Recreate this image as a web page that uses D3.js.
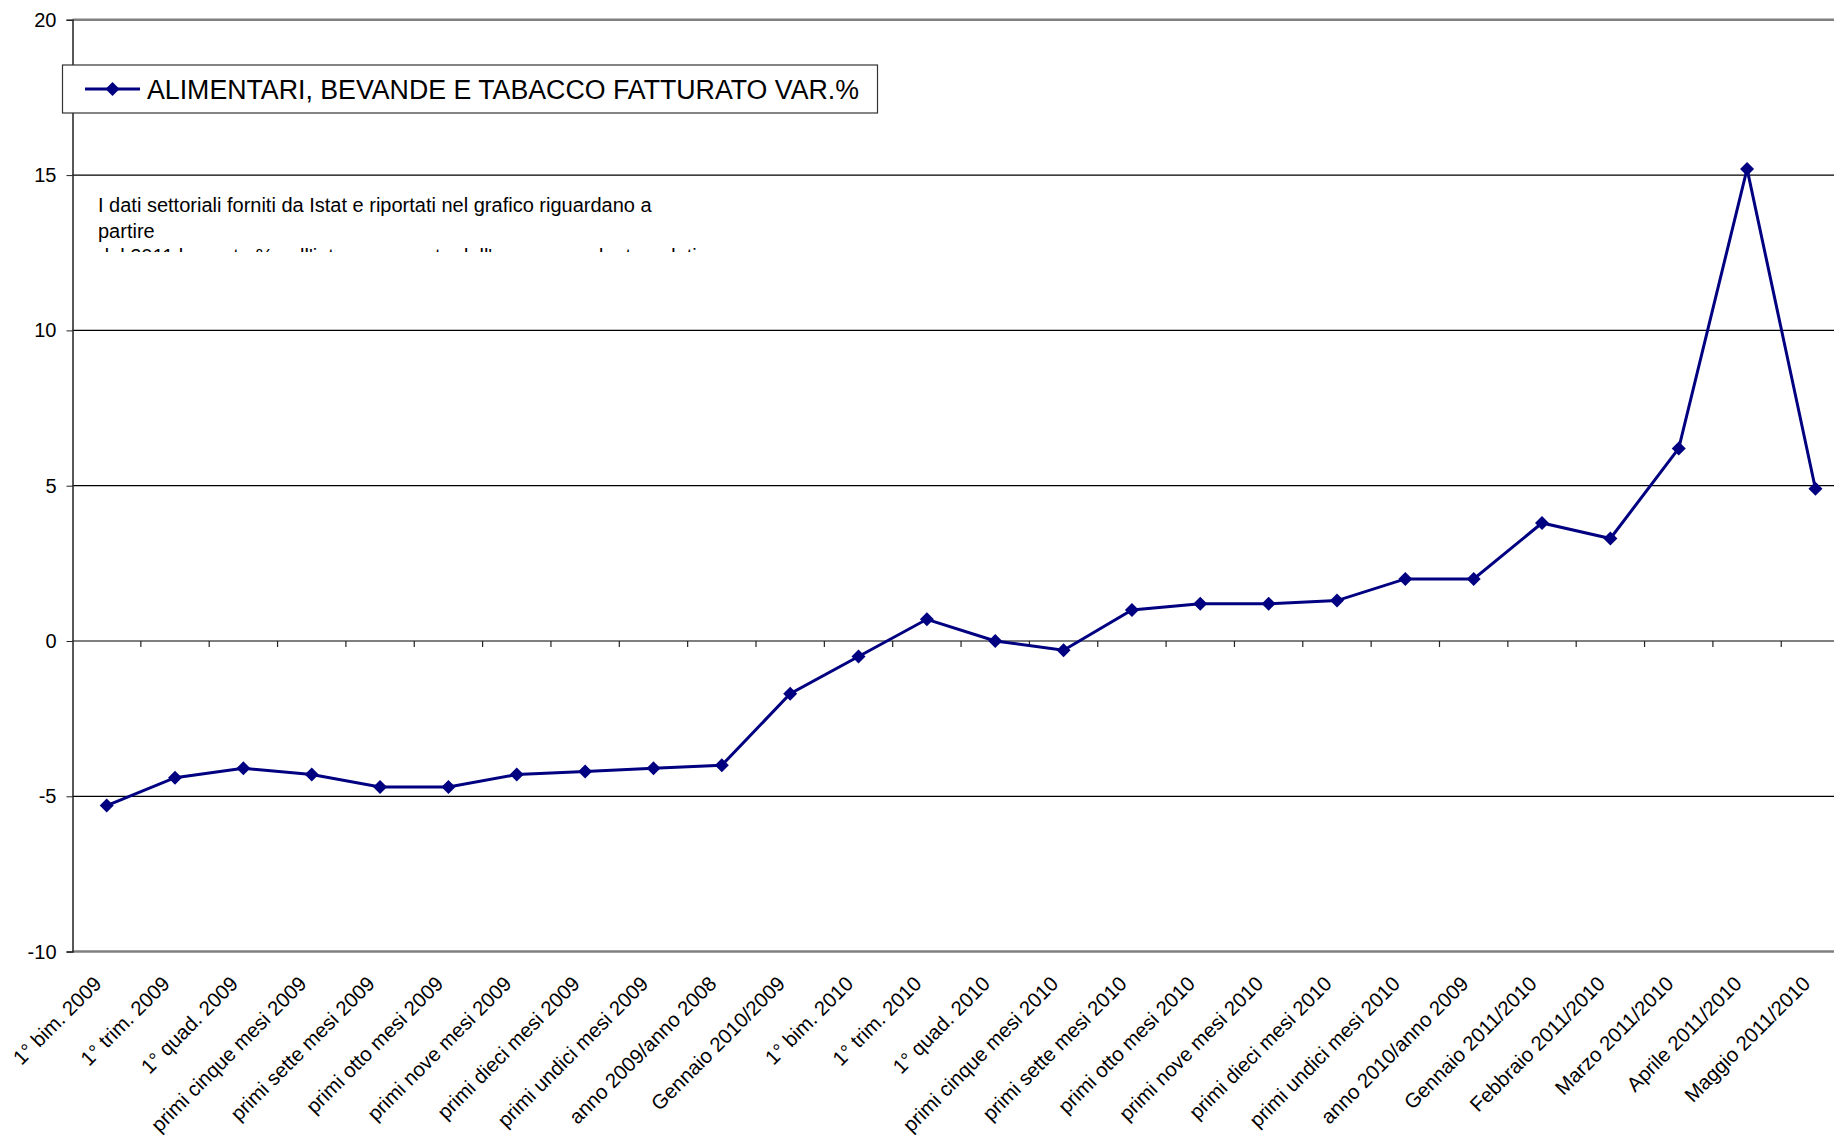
<!DOCTYPE html>
<html>
<head>
<meta charset="utf-8">
<script src="https://cdn.jsdelivr.net/npm/d3@7"></script>
<style>
  html, body { margin: 0; padding: 0; background: #fff; }
  svg { display: block; font-family: "Liberation Sans", Arial, sans-serif; }
</style>
</head>
<body>
<svg id="chart" width="1834" height="1138"></svg>
<script>
const categories = [
  "1° bim. 2009", "1° trim. 2009", "1° quad. 2009", "primi cinque mesi 2009",
  "primi sette mesi 2009", "primi otto mesi 2009", "primi nove mesi 2009",
  "primi dieci mesi 2009", "primi undici mesi 2009", "anno 2009/anno 2008",
  "Gennaio 2010/2009", "1° bim. 2010", "1° trim. 2010", "1° quad. 2010",
  "primi cinque mesi 2010", "primi sette mesi 2010", "primi otto mesi 2010",
  "primi nove mesi 2010", "primi dieci mesi 2010", "primi undici mesi 2010",
  "anno 2010/anno 2009", "Gennaio 2011/2010", "Febbraio 2011/2010",
  "Marzo 2011/2010", "Aprile 2011/2010", "Maggio 2011/2010"
];
const values = [
  -5.3, -4.4, -4.1, -4.3, -4.7, -4.7, -4.3, -4.2, -4.1, -4.0,
  -1.7, -0.5, 0.7, 0.0, -0.3, 1.0, 1.2, 1.2, 1.3, 2.0,
  2.0, 3.8, 3.3, 6.2, 15.2, 4.9
];
const yTicks = [-10, -5, 0, 5, 10, 15, 20];
const seriesName = "ALIMENTARI, BEVANDE E TABACCO FATTURATO VAR.%";
const noteLines = [
  "I dati settoriali forniti da Istat e riportati nel grafico riguardano a",
  "partire",
  "dal 2011 la quota % sull'intero comparto dell'anno precedente e dati"
];

(function () {
const svg = d3.select("#chart");
const pLeft = 72.5, pRight = 1849.6, pTop = 19.8, pBottom = 951.6;
const x = d3.scaleBand().domain(categories).range([pLeft, pRight]).padding(0);
const y = d3.scaleLinear().domain([-10, 20]).range([pBottom, pTop]);
const cx = c => x(c) + x.bandwidth() / 2;
const navy = "#000080";
const diamond = "M0,-7L7,0L0,7L-7,0Z";

// Gridlines
const grid = svg.append("g");
yTicks.forEach(t => {
  const edge = (t === 20 || t === -10);
  grid.append("line")
    .attr("x1", pLeft).attr("x2", pRight)
    .attr("y1", y(t)).attr("y2", y(t))
    .attr("stroke", edge ? "#808080" : "#000")
    .attr("stroke-width", edge ? 2.5 : 1.2);
});

// Y axis
const yAxis = svg.append("g")
  .attr("transform", `translate(${pLeft},0)`)
  .call(d3.axisLeft(y).tickValues(yTicks).tickSize(6).tickPadding(10).tickFormat(d => String(d)));
yAxis.select(".domain").attr("stroke", "#222").attr("stroke-width", 1.5);
yAxis.selectAll(".tick line").attr("stroke", "#222");
yAxis.selectAll(".tick text")
  .attr("font-size", 20).attr("fill", "#000")
  .attr("font-family", "Liberation Sans, Arial, sans-serif");

// X axis at zero with tick marks between categories
const xAxis = svg.append("g");
categories.forEach((c, i) => {
  if (i === 0) return;
  xAxis.append("line")
    .attr("x1", x(c)).attr("x2", x(c))
    .attr("y1", y(0)).attr("y2", y(0) + 6)
    .attr("stroke", "#222").attr("stroke-width", 1.2);
});
xAxis.append("line")
  .attr("x1", pRight).attr("x2", pRight)
  .attr("y1", y(0)).attr("y2", y(0) + 6)
  .attr("stroke", "#222").attr("stroke-width", 1.2);

// X labels
svg.append("g").selectAll("text")
  .data(categories)
  .join("text")
  .attr("transform", c => `translate(${cx(c) - 4},985) rotate(-45)`)
  .attr("text-anchor", "end")
  .attr("font-size", 20.4)
  .attr("fill", "#000")
  .text(c => c);

// Line
const line = d3.line()
  .x((d, i) => cx(categories[i]))
  .y(d => y(d));
svg.append("path")
  .datum(values)
  .attr("d", line)
  .attr("fill", "none")
  .attr("stroke", navy)
  .attr("stroke-width", 3);

svg.append("g").selectAll("path")
  .data(values)
  .join("path")
  .attr("d", diamond)
  .attr("transform", (d, i) => `translate(${cx(categories[i])},${y(d)})`)
  .attr("fill", navy);

// Legend
const lg = svg.append("g");
lg.append("rect")
  .attr("x", 62.5).attr("y", 65).attr("width", 815).attr("height", 48)
  .attr("fill", "#fff").attr("stroke", "#333").attr("stroke-width", 1.2);
lg.append("line")
  .attr("x1", 85).attr("x2", 140).attr("y1", 89).attr("y2", 89)
  .attr("stroke", navy).attr("stroke-width", 3);
lg.append("path")
  .attr("d", diamond)
  .attr("transform", "translate(112.5,89)")
  .attr("fill", navy);
lg.append("text")
  .attr("x", 147).attr("y", 98.5)
  .attr("font-size", 27)
  .attr("textLength", 712)
  .attr("lengthAdjust", "spacingAndGlyphs")
  .attr("fill", "#000")
  .text(seriesName);

// Note text (clipped text box)
svg.append("defs").append("clipPath").attr("id", "noteClip")
  .append("rect").attr("x", 90).attr("y", 190).attr("width", 700).attr("height", 62);
const note = svg.append("g").attr("clip-path", "url(#noteClip)");
noteLines.forEach((t, i) => {
  note.append("text")
    .attr("x", 98).attr("y", 212 + i * 25.7)
    .attr("font-size", 20)
    .attr("fill", "#000")
    .text(t);
});
})();
</script>
</body>
</html>
